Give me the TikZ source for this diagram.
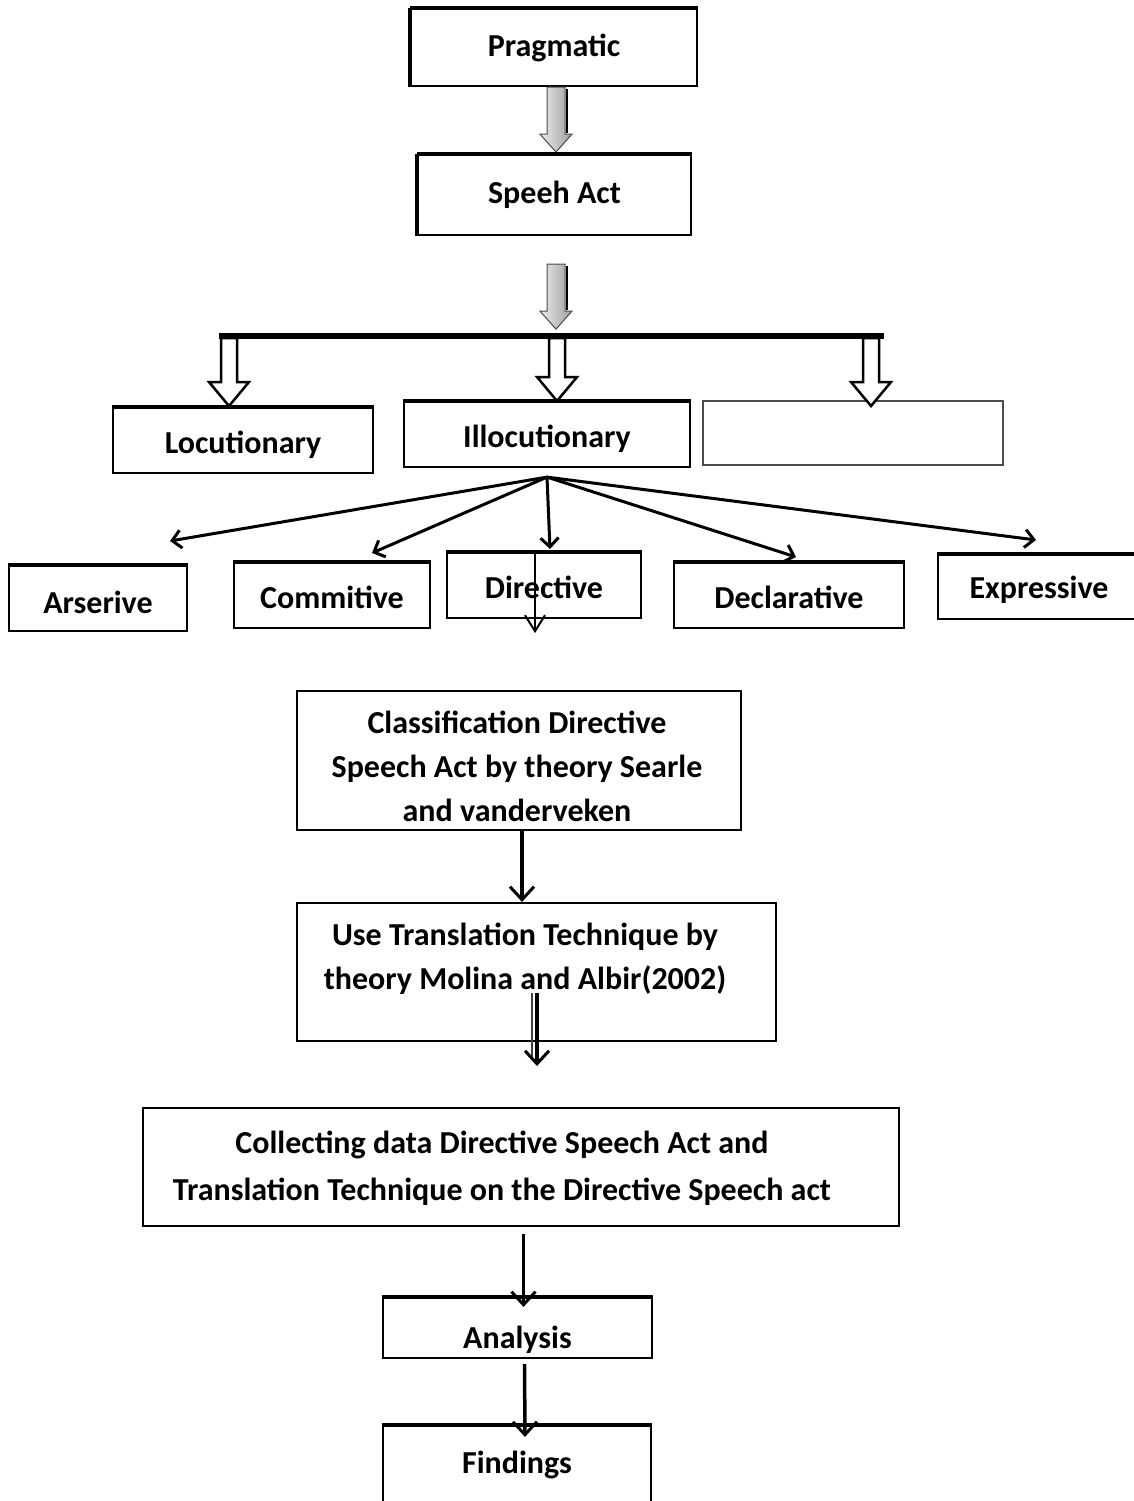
\documentclass[tikz,border=0pt]{standalone}
\usepackage{fontspec}
\setmainfont{Carlito}
\usepackage{tikz}
\usetikzlibrary{arrows.meta, positioning, calc}

\begin{document}
\begin{tikzpicture}[x=1pt, y=-1pt]
\tikzset{
    box/.style={draw, line width=2.2pt, inner sep=0pt, align=center,
        font=\bfseries\fontsize{32}{44}\selectfont},
    low/.style={text height=#1, text depth=6pt},
    txt/.style={inner sep=0pt, align=center,
        font=\bfseries\fontsize{32}{44}\selectfont},
    fanline/.style={line width=3pt, -{Straight Barb[length=9pt,width=18pt]}},
    downline/.style={line width=3.5pt, -{Straight Barb[length=13pt,width=24pt,line width=3pt]}},
    pics/grayarrow/.style={code={
        \path[left color=gray!15, right color=gray!75, draw=gray!60!black, line width=1pt]
          (-9,0) -- (9,0) -- (9,47) -- (16,47) -- (0,65) -- (-16,47) -- (-9,47) -- cycle;
        \draw[line width=2pt] (11,2) -- (11,46);
    }},
    pics/hollowarrow/.style={code={
        \draw[line width=2.5pt, fill=white]
          (-8,0) -- (8,0) -- (8,#1-24) -- (20,#1-24) -- (0,#1) -- (-20,#1-24) -- (-8,#1-24) -- cycle;
    }},
}
\useasboundingbox (0,0) rectangle (1134,1501);

  % speech act part
  \node[box, minimum width=286, minimum height=77] (prag) at (554,47.5) {Pragmatic};
  \node[box, minimum width=273, minimum height=80] (act) at (554.5,195) {Speeh Act};
  \pic at ([xshift=2pt]prag.south) {grayarrow};
  \pic at ($(act.south)+(1.5,28)$) {grayarrow};

  \node[box, low=31pt, minimum width=260, minimum height=65] (loc) at (243,440.5) {Locutionary};
  \node[box, low=31pt, minimum width=286, minimum height=65] (ill) at (547,434.5) {Illocutionary};
  \node[box, draw=gray!60!black, line width=1.5pt, minimum width=300, minimum height=64] (third) at (853,433) {};

  \pic at (229,338) {hollowarrow=68};
  \pic at (557,338) {hollowarrow=63};
  \pic at (871,338) {hollowarrow=68};
  \coordinate (barL) at (219,336);
  \coordinate (barR) at (884,336);
  \draw[line width=6pt] (barL) -- (barR);

  % illocutionary types
  \node[box, low=35pt, minimum width=178, minimum height=65] (ars) at (98,598.5) {Arserive};
  \node[box, low=31pt, minimum width=196, minimum height=65] (com) at (332,595.5) {Commitive};
  \node[box, low=31pt, minimum width=194, minimum height=65] (dir) at (544,585.5) {Directive};
  \node[box, low=31pt, minimum width=230, minimum height=65] (dec) at (789,595.5) {Declarative};
  \node[box, low=29pt, minimum width=202, minimum height=64] (exp) at (1039,587) {Expressive};

  \coordinate[below=9pt of ill] (fan);
  \coordinate (arsTip) at (170,541);
  \coordinate (comTip) at (372,553);
  \coordinate (dirTip) at (550,549);
  \coordinate (decTip) at (796,557);
  \coordinate (expTip) at (1036,540);
  \foreach \t in {arsTip,comTip,dirTip,decTip,expTip}
    \draw[fanline] (fan) -- (\t);
  \draw[line width=2pt, -{Straight Barb[length=16pt,width=20pt]}]
    ([xshift=-9pt]dir.north) -- ([xshift=-9pt,yshift=-14pt]dir.south);

  % research steps
  \node[box, minimum width=444, minimum height=139] (cls) at (519,760.5) {};
  \node[txt] (clstxt) at (517,766)
    {Classification Directive\\Speech Act by theory Searle\\and vanderveken};
  \node[box, minimum width=479, minimum height=138] (use) at (536.5,972) {};
  \node[txt] (usetxt) at (525,959) {Use Translation Technique by\\theory Molina and Albir(2002)};
  \node[box, minimum width=756, minimum height=118] (col) at (521,1167) {};
  \node[txt, font=\bfseries\fontsize{32}{47}\selectfont] (coltxt) at (502,1168)
    {Collecting data Directive Speech Act and\\Translation Technique on the Directive Speech act};
  \node[box, low=46pt, minimum width=269, minimum height=60] (ana) at (517.5,1328) {Analysis};
  \node[box, minimum width=268, minimum height=78] (fin) at (517,1465) {Findings};

  \draw[downline] ([xshift=3pt]cls.south) -- ([xshift=3pt]cls.south |- use.north);
  \coordinate (dblTop) at (537,993);
  \coordinate (dblEnd) at (537,1066);
  \draw[line width=1.5pt, gray!50!black] ([xshift=-5pt]dblTop) -- ([xshift=-5pt,yshift=8pt]dblEnd);
  \draw[downline] (dblTop) -- (dblEnd);
  \draw[downline] ($(ana.north |- col.south)+(6,7)$) -- ($(ana.north)+(6,10)$);
  \draw[downline] ($(ana.south)+(7,5)$) -- ($(fin.north)+(8,12)$);

  % heavier edges
  \foreach \n in {prag,act,loc,ill,ars,com,dir,dec,exp,ana,fin}
    \draw[line width=4.5pt] (\n.north west) -- (\n.north east);
  \foreach \n in {prag,act}
    \draw[line width=4.5pt] (\n.north west) -- (\n.south west);
\end{tikzpicture}
\end{document}
